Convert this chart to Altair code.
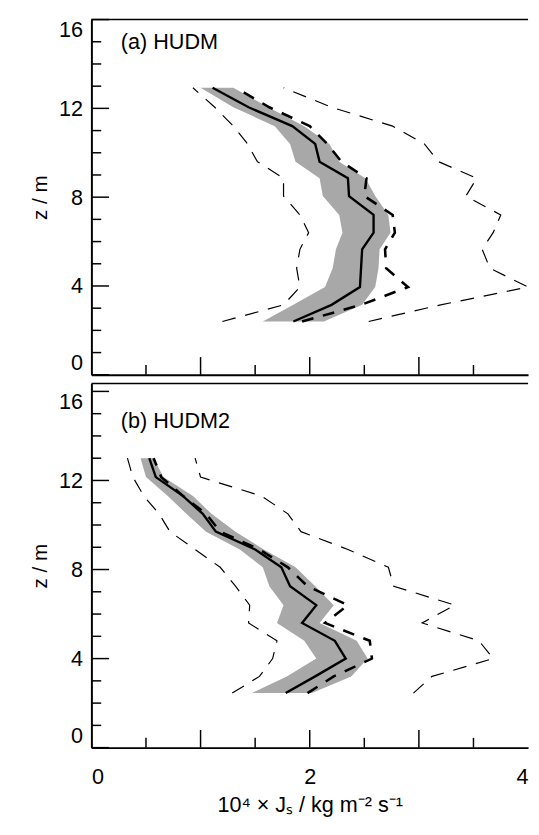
import altair as alt
import pandas as pd

# ---------------- data ----------------
# panel (a) HUDM
Z_A = [2.4, 3.15, 3.95, 4.8, 5.65, 6.4, 7.2, 8.05, 8.85, 9.6, 10.4, 11.2, 12.05, 12.93]
MEAN_A = [1.85, 2.20, 2.46, 2.47, 2.48, 2.585, 2.585, 2.36, 2.35, 2.09, 2.05, 1.84, 1.44, 1.11]
BAND_LO_A = [1.57, 1.85, 2.14, 2.21, 2.24, 2.30, 2.27, 2.12, 2.09, 1.87, 1.82, 1.68, 1.30, 1.00]
BAND_HI_A = [2.13, 2.48, 2.60, 2.63, 2.64, 2.74, 2.72, 2.60, 2.51, 2.27, 2.18, 1.95, 1.62, 1.30]
THICK_A = [1.93, 2.47, 2.90, 2.70, 2.69, 2.78, 2.76, 2.50, 2.52, 2.29, 2.16, 2.00, 1.63, 1.32]
THIN_LO_A = [1.20, 1.76, 1.91, 1.88, 1.91, 1.99, 1.91, 1.76, 1.76, 1.52, 1.43, 1.30, 1.13, 0.93]
THIN_HI_A = [2.54, 3.20, 4.00, 3.65, 3.58, 3.68, 3.75, 3.43, 3.53, 3.18, 3.05, 2.76, 2.20, 1.76]

# panel (b) HUDM2
Z_B = [2.45, 3.2, 4.0, 4.8, 5.6, 6.4, 7.25, 8.1, 8.9, 9.7, 10.5, 11.3, 12.15, 13.0]
MEAN_B = [1.78, 2.05, 2.33, 2.23, 1.93, 2.06, 1.82, 1.74, 1.50, 1.14, 1.02, 0.84, 0.59, 0.53]
BAND_LO_B = [1.47, 1.79, 2.06, 1.95, 1.70, 1.76, 1.63, 1.57, 1.36, 1.05, 0.87, 0.70, 0.50, 0.45]
BAND_HI_B = [2.02, 2.38, 2.53, 2.43, 2.09, 2.22, 2.05, 1.87, 1.58, 1.32, 1.10, 0.93, 0.66, 0.57]
THICK_B = [1.98, 2.22, 2.57, 2.55, 2.14, 2.35, 1.98, 1.80, 1.54, 1.18, 1.05, 0.84, 0.64, 0.57]
THIN_LO_B = [1.29, 1.54, 1.66, 1.70, 1.44, 1.45, 1.32, 1.18, 0.95, 0.72, 0.62, 0.48, 0.38, 0.33]
THIN_HI_B = [2.95, 3.12, 3.68, 3.55, 3.03, 3.33, 2.77, 2.72, 2.35, 1.92, 1.80, 1.56, 1.00, 0.95]

Y_LABELS = [0, 4, 8, 12, 16]
Y_MAJOR = [0, 4, 8, 12, 16]
Y_MINOR = [1, 2, 3, 5, 6, 7, 9, 10, 11, 13, 14, 15]
X_LABELS = [0, 2, 4]
X_MAJOR = [1, 2, 3]
X_MINOR = [0.5, 1.5, 2.5, 3.5]

FONT = "Liberation Sans"
W = 445
H_A = 362
H_B = 371
YMAX_A = 16
YMAX_B = 16.35


def make_df(z, mean, lo, hi, thick, tlo, thi):
    return pd.DataFrame({"z": z, "mean": mean, "lo": lo, "hi": hi,
                         "thick": thick, "tlo": tlo, "thi": thi})


def panel(df, ymax, height, label, lab_x, lab_y, bottom):
    xs = alt.Scale(domain=[0, 4], nice=False, zero=False)
    ys = alt.Scale(domain=[0, ymax], nice=False, zero=False)
    if bottom:
        xaxis = alt.Axis(values=X_LABELS, ticks=False, tickSize=0, grid=False,
                         labelFlush=True, labelPadding=20, labelFontSize=22,
                         labelFont=FONT, labelColor="black",
                         title="10⁴ × Jₛ / kg m⁻² s⁻¹", titleFont=FONT,
                         titleFontSize=22, titleFontWeight="normal",
                         titleColor="black", titlePadding=7,
                         domainColor="black", domainWidth=2)
    else:
        xaxis = alt.Axis(labels=False, ticks=False, tickSize=0, grid=False,
                         title=None, domainColor="black", domainWidth=2)
    yaxis = alt.Axis(values=Y_LABELS, ticks=False, tickSize=0, grid=False,
                     labelFlush=10, labelPadding=9, labelFontSize=22,
                     labelFont=FONT, labelColor="black",
                     title="z / m", titleFont=FONT, titleFontSize=21,
                     titleFontWeight="normal", titleColor="black",
                     titlePadding=8, domainColor="black", domainWidth=2)

    X = lambda f: alt.X(f"{f}:Q", scale=xs, axis=xaxis)
    Y = lambda f: alt.Y(f"{f}:Q", scale=ys, axis=yaxis)

    base = alt.Chart(df)
    band = base.mark_area(orient="horizontal", color="#a8a8a8").encode(
        x=X("lo"), x2="hi:Q", y=Y("z"))
    thin_lo = base.mark_line(color="black", strokeWidth=1.2, strokeDash=[14, 10]).encode(
        x=X("tlo"), y=Y("z"), order="z:Q")
    thin_hi = base.mark_line(color="black", strokeWidth=1.2, strokeDash=[14, 10]).encode(
        x=X("thi"), y=Y("z"), order="z:Q")
    thick = base.mark_line(color="black", strokeWidth=2.6, strokeDash=[12, 10]).encode(
        x=X("thick"), y=Y("z"), order="z:Q")
    mean = base.mark_line(color="black", strokeWidth=2.4).encode(
        x=X("mean"), y=Y("z"), order="z:Q")

    ymaj = alt.Chart(pd.DataFrame({"v": Y_MAJOR})).mark_rule(color="black", strokeWidth=1.5).encode(
        y=Y("v"), x=alt.value(0), x2=alt.value(18))
    ymin = alt.Chart(pd.DataFrame({"v": Y_MINOR})).mark_rule(color="black", strokeWidth=1.5).encode(
        y=Y("v"), x=alt.value(0), x2=alt.value(10))
    xmaj = alt.Chart(pd.DataFrame({"v": X_MAJOR})).mark_rule(color="black", strokeWidth=1.5).encode(
        x=X("v"), y=alt.value(height), y2=alt.value(height - 18))
    xmin = alt.Chart(pd.DataFrame({"v": X_MINOR})).mark_rule(color="black", strokeWidth=1.5).encode(
        x=X("v"), y=alt.value(height), y2=alt.value(height - 10))
    top = alt.Chart(pd.DataFrame({"v": [0]})).mark_rule(color="black", strokeWidth=1.5).encode(
        y=alt.value(0), x=alt.value(0), x2=alt.value(W))
    txt = alt.Chart(pd.DataFrame({"t": [label]})).mark_text(
        align="left", baseline="alphabetic", font=FONT, fontSize=22, color="black").encode(
        x=alt.value(lab_x), y=alt.value(lab_y), text="t:N")

    return alt.layer(band, thin_lo, thin_hi, thick, mean, ymaj, ymin, xmaj, xmin, top, txt).properties(
        width=W, height=height)


df_a = make_df(Z_A, MEAN_A, BAND_LO_A, BAND_HI_A, THICK_A, THIN_LO_A, THIN_HI_A)
df_b = make_df(Z_B, MEAN_B, BAND_LO_B, BAND_HI_B, THICK_B, THIN_LO_B, THIN_HI_B)

pa = panel(df_a, YMAX_A, H_A, "(a) HUDM", 30, 30, False)
pb = panel(df_b, YMAX_B, H_B, "(b) HUDM2", 30, 45, True)

chart = alt.vconcat(pa, pb, spacing=7).properties(
    padding={"left": 22, "top": 3, "right": 0, "bottom": 0},
    background="white",
).configure_view(stroke=None)

chart.save("out.html", embed_options={"renderer": "svg", "actions": False})
